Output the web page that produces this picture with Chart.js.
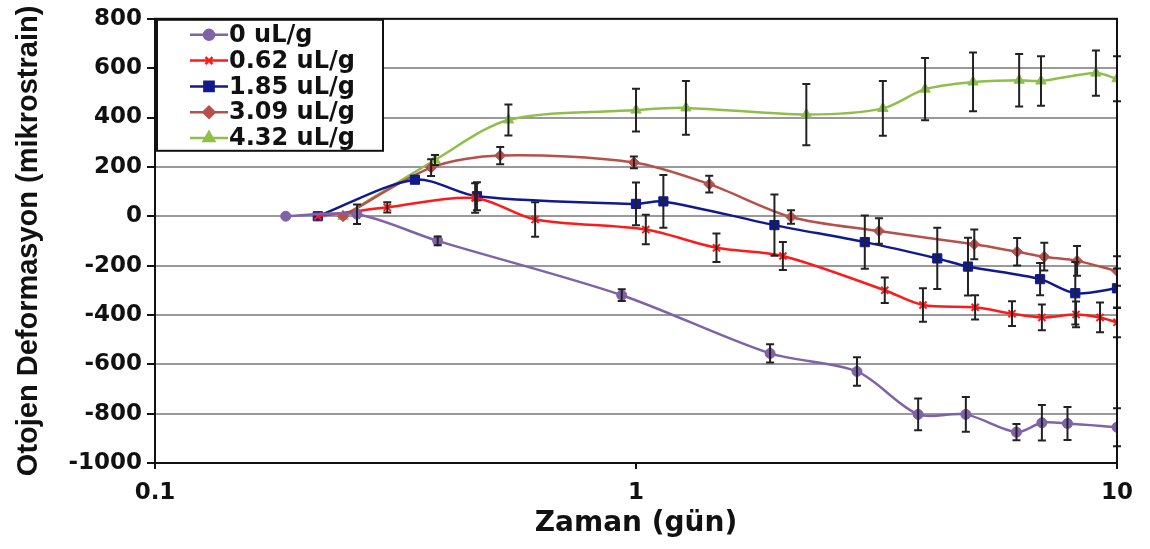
<!DOCTYPE html>
<html lang="tr">
<head>
    <meta charset="UTF-8">
    <title>Otojen Deformasyon</title>
    <script src="https://cdn.jsdelivr.net/npm/chart.js"></script>
    <style>
        html, body { margin: 0; padding: 0; background: #fff; }
        canvas { display: block; }
    </style>
</head>
<body>
    <canvas id="chart" width="1150" height="549"></canvas>

    <script>
        // seri adları
        const labels = ['0 uL/g', '0.62 uL/g', '1.85 uL/g', '3.09 uL/g', '4.32 uL/g'];

        // zaman (gün), deformasyon ve hata çubukları
        const times0 = [0.187, 0.263, 0.387, 0.934, 1.90, 2.88, 3.86, 4.85, 6.18, 6.98, 7.89, 10];
        const strain0 = [0, 8, -100, -320, -556, -629, -803, -803, -875, -837, -840, -855];
        const err0 = [0, 40, 18, 24, 37, 58, 64, 70, 33, 72, 67, 77];

        const times1 = [0.218, 0.304, 0.463, 0.617, 1.048, 1.47, 2.02, 3.29, 3.95, 5.07, 6.05, 6.98, 8.22, 9.22, 10];
        const strain1 = [0, 36, 74, -13, -54, -128, -161, -300, -360, -369, -395, -410, -398, -410, -430];
        const err1 = [0, 21, 60, 70, 60, 58, 57, 52, 68, 49, 50, 52, 52, 60, 60];

        const times2 = [0.218, 0.347, 0.467, 1.0, 1.14, 1.94, 2.99, 4.23, 4.90, 6.92, 8.19, 10];
        const strain2 = [0, 148, 81, 50, 60, -36, -105, -171, -204, -255, -312, -292];
        const err2 = [0, 0, 57, 87, 107, 124, 108, 124, 117, 65, 127, 80];

        const times3 = [0.246, 0.375, 0.522, 0.99, 1.42, 2.10, 3.20, 5.05, 6.20, 7.06, 8.26, 10];
        const strain3 = [0, 197, 246, 218, 130, -3, -60, -114, -144, -164, -181, -222];
        const err3 = [0, 34, 35, 24, 34, 27, 52, 60, 56, 56, 60, 60];

        const times4 = [0.246, 0.382, 0.543, 1.0, 1.27, 2.26, 3.26, 3.99, 5.02, 6.26, 6.95, 9.04, 10];
        const strain4 = [0, 228, 390, 430, 439, 412, 437, 515, 544, 551, 548, 580, 557];
        const err4 = [0, 20, 63, 87, 109, 124, 111, 126, 119, 106, 100, 92, 91];

        const xTicks = [0.1, 1, 10];

        const colors = ['#7f63a8', '#ff1a1a', '#101a8c', '#b8504a', '#8fbf4a'];
        const styles = ['circle', 'crossRot', 'rect', 'rectRot', 'triangle'];
        const radii = [5, 5, 6.5, 5.5, 6];

        const allTimes = [times0, times1, times2, times3, times4];
        const allStrain = [strain0, strain1, strain2, strain3, strain4];
        const allErr = [err0, err1, err2, err3, err4];

        const tickFont = { family: 'DejaVu Sans', size: 23, weight: 'bold' };

        const datasets = labels.map((label, i) => ({
            label: label,
            data: allTimes[i].map((t, j) => ({ x: t, y: allStrain[i][j] })),
            errors: allErr[i],
            borderColor: colors[i],
            backgroundColor: colors[i],
            borderWidth: 2.5,
            pointStyle: styles[i],
            pointRadius: radii[i],
            pointBorderWidth: styles[i] === 'crossRot' ? 2 : 1,
            tension: 0.3,
            fill: false
        }));

        // hata çubukları
        const errorBars = {
            id: 'errorBars',
            afterDatasetsDraw(chart) {
                const ctx = chart.ctx;
                const xs = chart.scales.x, ys = chart.scales.y;
                ctx.save();
                ctx.strokeStyle = '#222';
                ctx.lineWidth = 2;
                chart.data.datasets.forEach(ds => {
                    ds.data.forEach((p, j) => {
                        const e = ds.errors[j];
                        if (!e) return;
                        const x = xs.getPixelForValue(p.x);
                        const y1 = ys.getPixelForValue(p.y + e);
                        const y2 = ys.getPixelForValue(p.y - e);
                        ctx.beginPath();
                        ctx.moveTo(x, y1); ctx.lineTo(x, y2);
                        ctx.moveTo(x - 4, y1); ctx.lineTo(x + 4, y1);
                        ctx.moveTo(x - 4, y2); ctx.lineTo(x + 4, y2);
                        ctx.stroke();
                    });
                });
                ctx.restore();
            }
        };

        // çerçeve ve lejant
        const frameLegend = {
            id: 'frameLegend',
            afterDraw(chart) {
                const ctx = chart.ctx;
                const a = chart.chartArea;
                ctx.save();
                ctx.strokeStyle = '#111';
                ctx.lineWidth = 2;
                ctx.strokeRect(a.left, a.top, a.right - a.left, a.bottom - a.top);

                const bx = a.left + 2, by = a.top + 1, bw = 226, bh = 131;
                ctx.fillStyle = '#fff';
                ctx.fillRect(bx, by, bw, bh);
                ctx.strokeRect(bx, by, bw, bh);

                chart.data.datasets.forEach((ds, i) => {
                    const y = by + 15 + i * 25.8;
                    ctx.strokeStyle = ds.borderColor;
                    ctx.lineWidth = 2.5;
                    ctx.beginPath();
                    ctx.moveTo(bx + 33, y); ctx.lineTo(bx + 71, y);
                    ctx.stroke();
                    ctx.fillStyle = ds.backgroundColor;
                    Chart.helpers.drawPoint(ctx, {
                        pointStyle: ds.pointStyle,
                        radius: ds.pointRadius,
                        borderWidth: ds.pointBorderWidth,
                        rotation: 0
                    }, bx + 52, y);
                    ctx.fillStyle = '#111';
                    ctx.font = 'bold 24px "DejaVu Sans"';
                    ctx.textBaseline = 'middle';
                    ctx.textAlign = 'left';
                    ctx.fillText(ds.label, bx + 72, y + 1);
                });
                ctx.restore();
            }
        };

        new Chart(document.getElementById('chart').getContext('2d'), {
            type: 'line',
            data: { datasets: datasets },
            options: {
                responsive: false,
                animation: false,
                layout: { padding: { top: 17, right: 33, left: 0, bottom: 0 } },
                plugins: {
                    legend: { display: false },
                    tooltip: { enabled: false }
                },
                scales: {
                    x: {
                        type: 'logarithmic',
                        min: 0.1,
                        max: 10,
                        afterBuildTicks: s => { s.ticks = xTicks.map(v => ({ value: v })); },
                        afterFit: s => { s.height = 86; },
                        ticks: {
                            color: '#111',
                            font: tickFont,
                            padding: 10,
                            maxRotation: 0,
                            callback: v => String(v)
                        },
                        grid: {
                            drawOnChartArea: false,
                            tickLength: 6,
                            tickColor: '#111',
                            lineWidth: 2
                        },
                        border: { color: '#111', width: 2 },
                        title: {
                            display: true,
                            text: 'Zaman (gün)',
                            color: '#111',
                            font: { family: 'DejaVu Sans', size: 28, weight: 'bold' },
                            padding: { top: 0, bottom: 8 }
                        }
                    },
                    y: {
                        min: -1000,
                        max: 800,
                        afterFit: s => { s.width = 155; },
                        ticks: {
                            stepSize: 200,
                            color: '#111',
                            font: tickFont,
                            padding: 5,
                            callback: v => String(v)
                        },
                        grid: {
                            color: '#999',
                            lineWidth: 2,
                            tickLength: 8,
                            tickColor: '#111'
                        },
                        border: { color: '#111', width: 2 },
                        title: {
                            display: true,
                            text: 'Otojen Deformasyon (mikrostrain)',
                            color: '#111',
                            font: { family: 'Liberation Sans', size: 29, weight: 'bold' },
                            padding: { top: 12, bottom: 0 }
                        }
                    }
                }
            },
            plugins: [errorBars, frameLegend]
        });
    </script>
</body>
</html>
